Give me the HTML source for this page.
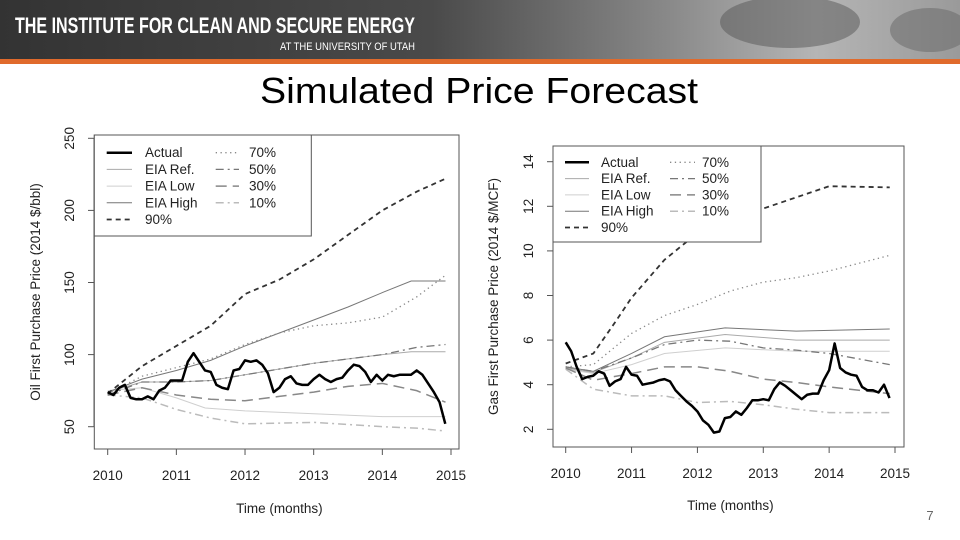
<!DOCTYPE html>
<html><head><meta charset="utf-8"><style>
body{margin:0;width:960px;height:540px;background:#fff;overflow:hidden;font-family:"Liberation Sans",sans-serif}
svg{position:absolute;left:0;top:0}
</style></head><body>
<svg id="s" width="960" height="540" xmlns="http://www.w3.org/2000/svg">
<defs><linearGradient id="hg" x1="0" x2="1" y1="0" y2="0">
<stop offset="0" stop-color="#333"/><stop offset="0.45" stop-color="#4a4a4a"/><stop offset="0.7" stop-color="#8a8a8a"/><stop offset="0.85" stop-color="#b5b5b5"/><stop offset="1" stop-color="#9a9a9a"/></linearGradient></defs>
<g>
<rect x="0" y="0" width="960" height="59" fill="url(#hg)"/>
<ellipse cx="790" cy="22" rx="70" ry="26" fill="#555" opacity="0.5"/>
<ellipse cx="930" cy="30" rx="40" ry="22" fill="#666" opacity="0.5"/>
<rect x="0" y="59" width="960" height="5" fill="#e06a2c"/>
<text x="15" y="33" font-size="22" font-weight="bold" fill="#fff" textLength="400" lengthAdjust="spacingAndGlyphs">THE INSTITUTE FOR CLEAN AND SECURE ENERGY</text>
<text x="280" y="50" font-size="11" fill="#fff" textLength="135" lengthAdjust="spacingAndGlyphs">AT THE UNIVERSITY OF UTAH</text>
</g>
<text x="479" y="103" font-size="36" text-anchor="middle" fill="#000" textLength="438" lengthAdjust="spacingAndGlyphs">Simulated Price Forecast</text>
<text x="930" y="520" font-size="13" fill="#666" text-anchor="middle">7</text>
<g id="oil"></g>
<g id="gas"></g>
</svg>
<script>
const oilActual=[74,72,77,79,70,69,69,71,69,75,77,82,82,82,95,101,95,89,88,79,77,76,89,90,96,95,96,93,87,74,77,83,85,80,79,79,83,86,83,81,83,84,89,93,92,88,81,86,82,86,85,86,86,86,89,86,80,74,67,52];
const oil90=[[2010,73],[2010.5,92],[2011,106],[2011.5,120],[2012,142],[2012.5,152],[2013,166],[2013.5,183],[2014,200],[2014.5,213],[2014.92,222]];
const oil70=[[2010,73],[2010.5,85],[2011,91],[2011.5,97],[2012,107],[2012.5,115],[2013,120],[2013.5,122],[2014,126],[2014.5,140],[2014.92,155]];
const oilHigh=[[2010,74],[2010.5,83],[2011,89],[2011.5,96],[2012,106],[2012.5,115],[2013,124],[2013.5,133],[2014,143],[2014.42,151],[2014.92,151]];
const oilRef=[[2010,74],[2010.5,81],[2011,81],[2011.5,82],[2012,86],[2013,94],[2014,100],[2014.42,102],[2014.92,102]];
const oil50=[[2010,72],[2010.5,81],[2011,81],[2011.5,82],[2012,86],[2013,94],[2014,100],[2014.5,105],[2014.92,107]];
const oil30=[[2010,72],[2010.5,77],[2011,72],[2011.5,69],[2012,68],[2012.5,71],[2013,74],[2013.5,78],[2014,80],[2014.5,75],[2014.92,67]];
const oilLow=[[2010,75],[2010.5,77],[2011,70],[2011.42,63],[2012,61],[2013,59],[2014,57],[2014.92,57]];
const oil10=[[2010,72],[2010.5,70],[2011,62],[2011.5,56],[2012,52],[2013,53],[2014,50],[2014.5,49],[2014.92,47]];
const oilYTicks=[50,100,150,200,250];
const gasActual=[5.9,5.5,4.8,4.25,4.35,4.4,4.6,4.5,3.95,4.15,4.25,4.8,4.45,4.4,4.0,4.05,4.1,4.2,4.25,4.15,3.75,3.5,3.25,3.05,2.8,2.4,2.2,1.85,1.9,2.5,2.55,2.8,2.65,2.95,3.3,3.3,3.35,3.3,3.8,4.1,3.95,3.75,3.55,3.35,3.55,3.6,3.6,4.2,4.65,5.85,4.75,4.55,4.45,4.4,3.9,3.75,3.75,3.65,4.0,3.4];
const gas90=[[2010,4.95],[2010.42,5.4],[2010.75,6.8],[2011,7.9],[2011.5,9.6],[2012,10.8],[2012.5,11.4],[2013,11.9],[2013.5,12.4],[2014,12.9],[2014.92,12.85]];
const gas70=[[2010,4.8],[2010.42,4.9],[2011,6.3],[2011.5,7.1],[2012,7.6],[2012.5,8.2],[2013,8.6],[2013.5,8.8],[2014,9.1],[2014.92,9.8]];
const gasHigh=[[2010,4.8],[2010.42,4.6],[2011,5.4],[2011.5,6.15],[2012.42,6.55],[2013.5,6.4],[2014.92,6.5]];
const gasRef=[[2010,4.75],[2010.42,4.55],[2011,5.2],[2011.5,5.9],[2012.42,6.25],[2013.5,6.0],[2014.92,6.0]];
const gasLow=[[2010,4.7],[2010.42,4.5],[2011,4.9],[2011.5,5.4],[2012.42,5.65],[2013.5,5.5],[2014.92,5.5]];
const gas50=[[2010,4.8],[2010.42,4.6],[2011,5.2],[2011.5,5.8],[2012,6.0],[2012.5,5.95],[2013,5.65],[2013.5,5.55],[2014,5.4],[2014.92,4.9]];
const gas30=[[2010,4.75],[2010.42,4.2],[2011,4.5],[2011.5,4.8],[2012,4.8],[2012.5,4.6],[2013,4.25],[2013.5,4.1],[2014,3.9],[2014.92,3.6]];
const gas10=[[2010,4.7],[2010.42,3.8],[2011,3.5],[2011.5,3.5],[2012,3.2],[2012.5,3.25],[2013,3.1],[2013.5,2.9],[2014,2.75],[2014.92,2.75]];
const gasYTicks=[2,4,6,8,10,12,14];
const xTicks=[2010,2011,2012,2013,2014,2015];
const legendLeft=["Actual","EIA Ref.","EIA Low","EIA High","90%"];
const legendRight=["70%","50%","30%","10%"];

const NS="http://www.w3.org/2000/svg";
const STY={
 "Actual":{s:"#000",w:2.5,d:""},
 "EIA Ref.":{s:"#aaa",w:1,d:""},
 "EIA Low":{s:"#cfcfcf",w:1,d:""},
 "EIA High":{s:"#777",w:1,d:""},
 "90%":{s:"#333",w:1.8,d:"5,4"},
 "70%":{s:"#888",w:1.3,d:"1.3,3.5"},
 "50%":{s:"#777",w:1.3,d:"8,4,2,4"},
 "30%":{s:"#888",w:1.5,d:"11,6"},
 "10%":{s:"#bbb",w:1.5,d:"8,4,2,4"}
};
function mk(p,t,a){const e=document.createElementNS(NS,t);for(const k in a)e.setAttribute(k,a[k]);p.appendChild(e);return e;}
function draw(cfg){
 const g=document.getElementById(cfg.id);
 const X=v=>cfg.x0+(v-2010)*(cfg.x1-cfg.x0)/5;
 const Y=v=>cfg.yb+(v-cfg.vb)*(cfg.yt-cfg.yb)/(cfg.vt-cfg.vb);
 const ax=mk(g,"g",{});
 
 
 mk(ax,"line",{x1:X(2010),x2:X(2015),y1:cfg.axY,y2:cfg.axY,stroke:"#555"});
 xTicks.forEach(t=>{mk(ax,"line",{x1:X(t),x2:X(t),y1:cfg.axY,y2:cfg.axY+6,stroke:"#555"});
  const tx=mk(ax,"text",{x:X(t),y:cfg.axY+31,"font-size":13.5,"text-anchor":"middle",fill:"#222"});tx.textContent=t;
  
  });
 const yt=cfg.yTicks;
 mk(ax,"line",{x1:cfg.axX,x2:cfg.axX,y1:Y(yt[0]),y2:Y(yt[yt.length-1]),stroke:"#555"});
 yt.forEach(t=>{mk(ax,"line",{x1:cfg.axX-6,x2:cfg.axX,y1:Y(t),y2:Y(t),stroke:"#555"});
  const tx=mk(ax,"text",{x:cfg.axX-20,y:Y(t),"font-size":13.5,"text-anchor":"middle",fill:"#222",transform:`rotate(-90 ${cfg.axX-20} ${Y(t)})`});tx.textContent=t;
  
  });
 mk(g,"rect",{x:cfg.bx,y:cfg.by,width:cfg.bw,height:cfg.bh,fill:"none",stroke:"#555"});
 const xt=mk(g,"text",{x:(X(2010)+X(2015))/2,y:cfg.xtY,"font-size":13.5,"text-anchor":"middle",fill:"#222"});xt.textContent="Time (months)";
 
 
 const yc=cfg.by+cfg.bh/2;
 const ytt=mk(g,"text",{x:cfg.ytX,y:yc,"font-size":13.5,"text-anchor":"middle",fill:"#222",transform:`rotate(-90 ${cfg.ytX} ${yc})`});ytt.textContent=cfg.yTitle;
 
 
 const series=[["EIA Low",cfg.low],["10%",cfg.p10],["EIA Ref.",cfg.ref],["EIA High",cfg.high],["30%",cfg.p30],["50%",cfg.p50],["70%",cfg.p70],["90%",cfg.p90]];
 series.forEach(([n,d])=>{const st=STY[n];
  const pl=mk(g,"polyline",{points:d.map(p=>X(p[0])+","+Y(p[1])).join(" "),fill:"none",stroke:st.s,"stroke-width":st.w,"stroke-dasharray":st.d});
  
  });
 const act=mk(g,"polyline",{points:cfg.actual.map((v,i)=>X(2010+i/12)+","+Y(v)).join(" "),fill:"none",stroke:"#000","stroke-width":2.5,"stroke-linejoin":"round"});
 
 
 const lg=mk(g,"g",{});
 
 
 mk(lg,"rect",{x:cfg.bx,y:cfg.by,width:cfg.lw,height:cfg.lh,fill:"#fff",stroke:"#555"});
 const items=legendLeft.map((n,i)=>[n,0,i]).concat(legendRight.map((n,i)=>[n,1,i]));
 items.forEach(([n,c,i])=>{const st=STY[n];const y=cfg.ly+i*cfg.ls;const l=cfg.cols[c];
  const e=mk(lg,"g",{});
  
  
  mk(e,"line",{x1:l[0],x2:l[1],y1:y,y2:y,stroke:st.s,"stroke-width":st.w,"stroke-dasharray":st.d});
  const t=mk(e,"text",{x:l[2],y:y+4.5,"font-size":13.5,fill:"#222"});t.textContent=n;});
}
draw({id:"oil",x0:107.7,x1:451,vb:50,vt:250,yb:426.7,yt:138.3,axY:449,axX:94,bx:94.3,by:135,bw:364.7,bh:314,xtY:513,ytX:40,yTicks:oilYTicks,yTitle:"Oil First Purchase Price (2014 $/bbl)",
 actual:oilActual,p90:oil90,p70:oil70,high:oilHigh,ref:oilRef,p50:oil50,p30:oil30,low:oilLow,p10:oil10,
 lw:217,lh:101,ly:152.7,ls:16.7,cols:[[106.7,132,145],[215.7,239,249]]});
draw({id:"gas",x0:565.7,x1:895,vb:2,vt:14,yb:429.3,yt:161.7,axY:447,axX:553,bx:553,by:146,bw:351,bh:301,xtY:510,ytX:498,yTicks:gasYTicks,yTitle:"Gas First Purchase Price (2014 $/MCF)",
 actual:gasActual,p90:gas90,p70:gas70,high:gasHigh,ref:gasRef,p50:gas50,p30:gas30,low:gasLow,p10:gas10,
 lw:208,lh:96,ly:162.3,ls:16.3,cols:[[565,589,601],[670,695,702]]});
</script>
</body></html>
